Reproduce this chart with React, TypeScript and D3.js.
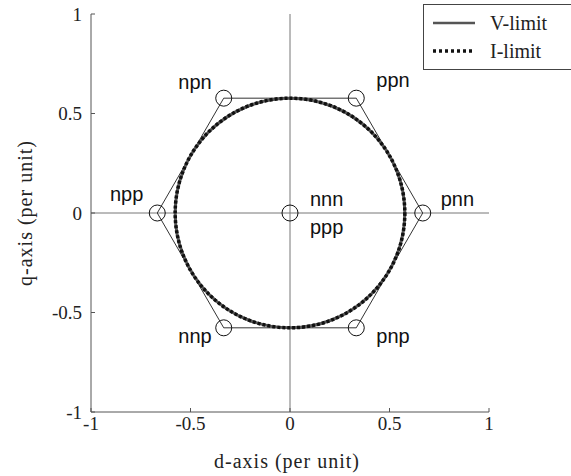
import React from "react";
import * as d3 from "d3";

const ticks = [-1, -0.5, 0, 0.5, 1];
const tickLabels = ["-1", "-0.5", "0", "0.5", "1"];
const vertexNames = ["pnn", "ppn", "npn", "npp", "nnp", "pnp", "nnn"];
const vertexD = [0.667, 0.333, -0.333, -0.667, -0.333, 0.333, 0];
const vertexQ = [0, 0.577, 0.577, 0, -0.577, -0.577, 0];
const labelDx = [18, 20, -12, -14, -12, 20, 20];
const labelDy = [-7, -11, -9, -12, 15, 15, -7];
const limitRadius = [0.577, 0.577];
const legendNames = ["V-limit", "I-limit"];

const W = 571, H = 476;

export default function App() {
  const x = d3.scaleLinear().domain([-1, 1]).range([91, 489]);
  const y = d3.scaleLinear().domain([-1, 1]).range([412, 14]);
  const hexIdx = [0, 1, 2, 3, 4, 5];
  const hexLine = d3.line<number>().x(i => x(vertexD[i])).y(i => y(vertexQ[i])).curve(d3.curveLinearClosed);
  const r0 = x(limitRadius[0]) - x(0);
  const serif = "'Liberation Serif', 'Times New Roman', serif";
  const sans = "'Liberation Sans', Arial, sans-serif";
  return (
    <svg width={W} height={H} style={{ position: "absolute", left: 0, top: 0, background: "#fff" }}>
      <line x1={x(-1)} x2={x(1)} y1={y(0)} y2={y(0)} stroke="#777" strokeWidth={1} />
      <line x1={x(0)} x2={x(0)} y1={y(-1)} y2={y(1)} stroke="#777" strokeWidth={1} />
      <line x1={x(-1)} x2={x(-1)} y1={y(-1)} y2={y(1)} stroke="#555" strokeWidth={1} />
      <line x1={x(-1)} x2={x(1)} y1={y(-1)} y2={y(-1)} stroke="#555" strokeWidth={1} />
      {ticks.map((t, i) => (
        <g key={"xt" + i}>
          <line x1={x(t)} x2={x(t)} y1={y(-1)} y2={y(-1) - 4} stroke="#555" />
          <text x={x(t)} y={430} textAnchor="middle" fontFamily={serif} fontSize={19} fill="#222">{tickLabels[i]}</text>
        </g>
      ))}
      {ticks.map((t, i) => (
        <g key={"yt" + i}>
          <line x1={x(-1)} x2={x(-1) + 4} y1={y(t)} y2={y(t)} stroke="#555" />
          <text x={82} y={y(t)} dy="0.35em" textAnchor="end" fontFamily={serif} fontSize={19} fill="#222">{tickLabels[i]}</text>
        </g>
      ))}
      <text x={287} y={468} textAnchor="middle" fontFamily={serif} fontSize={20} letterSpacing={1} fill="#222">d-axis (per unit)</text>
      <text transform={`translate(32,${213}) rotate(-90)`} textAnchor="middle" fontFamily={serif} fontSize={20} letterSpacing={1} fill="#222">q-axis (per unit)</text>
      <path d={hexLine(hexIdx) || ""} fill="none" stroke="#333" strokeWidth={1} />
      <circle cx={x(0)} cy={y(0)} r={r0} fill="none" stroke="#555" strokeWidth={3} />
      <circle cx={x(0)} cy={y(0)} r={x(limitRadius[1]) - x(0)} fill="none" stroke="#111" strokeWidth={3.5} strokeDasharray="3 2" />
      {vertexNames.map((n, i) => (
        <g key={n}>
          <circle cx={x(vertexD[i])} cy={y(vertexQ[i])} r={8} fill="none" stroke="#111" strokeWidth={1} />
          <text x={x(vertexD[i]) + labelDx[i]} y={y(vertexQ[i]) + labelDy[i]} textAnchor={labelDx[i] < 0 ? "end" : "start"} fontFamily={sans} fontSize={20} fill="#111">{n}</text>
        </g>
      ))}
      <text x={x(0) + 20} y={y(0) + 21} fontFamily={sans} fontSize={20} fill="#111">ppp</text>
      <rect x={423.5} y={4.5} width={160} height={65} fill="#fff" stroke="#444" strokeWidth={1} />
      <line x1={433} x2={475} y1={23} y2={23} stroke="#555" strokeWidth={2.5} />
      <line x1={433} x2={475} y1={51} y2={51} stroke="#111" strokeWidth={3.5} strokeDasharray="3 3" />
      <text x={490} y={29.5} fontFamily={serif} fontSize={20} fill="#222">{legendNames[0]}</text>
      <text x={490} y={57.5} fontFamily={serif} fontSize={20} fill="#222">{legendNames[1]}</text>
    </svg>
  );
}
